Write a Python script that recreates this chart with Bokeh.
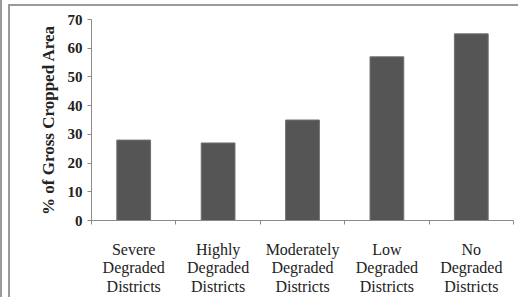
from bokeh.plotting import figure
from bokeh.models import Range1d, LinearAxis, FixedTicker, ColumnDataSource
from bokeh.embed import file_html
from bokeh.resources import INLINE

categories = ["Severe", "Highly", "Moderately", "Low", "No"]
tick_labels = ["Severe\nDegraded\nDistricts", "Highly\nDegraded\nDistricts",
               "Moderately\nDegraded\nDistricts", "Low\nDegraded\nDistricts",
               "No\nDegraded\nDistricts"]
values = [28, 27, 35, 57, 65]
y_ticks = [0, 10, 20, 30, 40, 50, 60, 70]

pos = list(range(len(categories)))
boundaries = [i - 0.5 for i in range(len(categories) + 1)]

src = ColumnDataSource(dict(x=pos, cat=categories, val=values))

SERIF = "'Liberation Serif', 'DejaVu Serif', serif"

p = figure(width=518, height=297, x_range=Range1d(-0.5, len(categories) - 0.5), y_range=Range1d(0, 70),
           output_backend="svg", toolbar_location=None, x_axis_location=None,
           min_border_left=91, min_border_right=5, min_border_top=19, min_border_bottom=77)
p.styles = {"background": "linear-gradient(#9a9a9a,#9a9a9a) 0 0/2px 100% no-repeat, "
                          "linear-gradient(#9a9a9a,#9a9a9a) 8px 4px/2px 100% no-repeat, "
                          "linear-gradient(#9a9a9a,#9a9a9a) 8px 4px/100% 2px no-repeat, white"}
p.border_fill_color = None
p.background_fill_color = "white"
p.outline_line_color = None
p.xgrid.grid_line_color = None
p.ygrid.grid_line_color = None

p.vbar(x="x", top="val", width=0.4, source=src, fill_color="#555555", line_color="#707070", line_width=1)

# y axis
ya = p.yaxis[0]
ya.ticker = FixedTicker(ticks=y_ticks)
ya.axis_line_color = "#8a8a8a"
ya.major_tick_line_color = "#8a8a8a"
ya.major_tick_out = 4
ya.major_tick_in = 0
ya.minor_tick_line_color = None
ya.major_label_text_font = SERIF
ya.major_label_text_font_style = "bold"
ya.major_label_text_font_size = "15px"
ya.major_label_text_color = "#222222"
ya.major_label_standoff = 5
ya.axis_label = "% of Gross Cropped Area"
ya.axis_label_text_font = SERIF
ya.axis_label_text_font_style = "bold"
ya.axis_label_text_font_size = "17px"
ya.axis_label_text_color = "#222222"
ya.axis_label_standoff = 7

# x axis: boundary ticks
xa_ticks = LinearAxis(ticker=FixedTicker(ticks=boundaries))
xa_ticks.axis_line_color = "#8a8a8a"
xa_ticks.major_tick_line_color = "#8a8a8a"
xa_ticks.major_tick_out = 4
xa_ticks.major_tick_in = 0
xa_ticks.minor_tick_line_color = None
xa_ticks.major_label_text_font_size = "0px"
xa_ticks.major_label_text_color = None
xa_ticks.major_label_standoff = 0
p.add_layout(xa_ticks, "below")

xa = LinearAxis(ticker=FixedTicker(ticks=pos))
xa.axis_line_color = None
xa.major_tick_line_color = None
xa.minor_tick_line_color = None
xa.major_label_overrides = dict(zip(pos, tick_labels))
xa.major_label_text_font = SERIF
xa.major_label_text_font_size = "16px"
xa.major_label_text_color = "#222222"
xa.major_label_text_line_height = 1.1
xa.major_label_standoff = 10
p.add_layout(xa, "below")

open("out.html", "w").write(file_html(p, INLINE))
